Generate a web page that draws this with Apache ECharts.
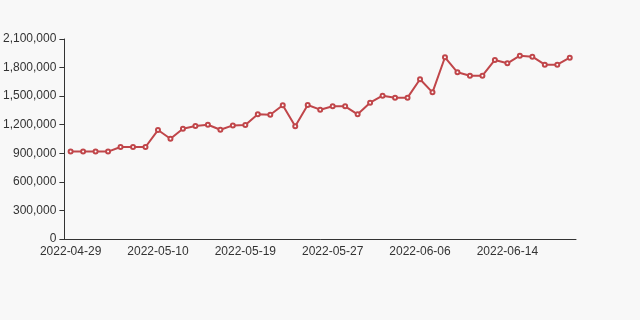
<!DOCTYPE html>
<html>
<head>
<meta charset="utf-8">
<script src="https://cdn.jsdelivr.net/npm/echarts@6/dist/echarts.min.js"></script>
<style>
html,body{margin:0;padding:0;background:#f8f8f8;}
#c{width:640px;height:320px;}
</style>
</head>
<body>
<div id="c"></div>
<script>
const dates = [
  "2022-04-29","2022-05-02","2022-05-03","2022-05-04","2022-05-05","2022-05-06","2022-05-09","2022-05-10",
  "2022-05-11","2022-05-12","2022-05-13","2022-05-16","2022-05-17","2022-05-18","2022-05-19",
  "2022-05-20","2022-05-21","2022-05-23","2022-05-24","2022-05-25","2022-05-26","2022-05-27",
  "2022-05-30","2022-05-31","2022-06-01","2022-06-02","2022-06-03","2022-06-05","2022-06-06",
  "2022-06-07","2022-06-08","2022-06-09","2022-06-10","2022-06-11","2022-06-13","2022-06-14",
  "2022-06-15","2022-06-16","2022-06-17","2022-06-20","2022-06-21"
];
const values = [
  918000, 918000, 918000, 918000, 966000, 966000, 966000, 1144000,
  1053000, 1158000, 1186000, 1200000, 1147000, 1193000, 1197000,
  1309000, 1305000, 1404000, 1183000, 1407000, 1358000, 1393000,
  1393000, 1309000, 1431000, 1505000, 1484000, 1484000, 1677000,
  1540000, 1908000, 1750000, 1715000, 1715000, 1880000, 1845000,
  1925000, 1914000, 1830000, 1830000, 1904000
];
const yTicks = { min: 0, max: 2100000, interval: 300000 };

const chart = echarts.init(document.getElementById('c'), null, {renderer: 'canvas'});
chart.setOption({
  backgroundColor: '#f8f8f8',
  animation: false,
  grid: { left: 62, right: 64, top: 39, bottom: 81 },
  xAxis: {
    type: 'category',
    data: dates,
    boundaryGap: true,
    axisLine: { lineStyle: { color: '#333' } },
    axisTick: { interval: 6, lineStyle: { color: '#333' } },
    axisLabel: { interval: 6, color: '#333', fontSize: 12, fontFamily: 'Arial, "Liberation Sans", sans-serif', margin: 7 },
    splitLine: { show: false }
  },
  yAxis: {
    type: 'value',
    min: yTicks.min, max: yTicks.max, interval: yTicks.interval,
    axisLine: { show: true, lineStyle: { color: '#333' } },
    axisTick: { show: true, lineStyle: { color: '#333' } },
    axisLabel: {
      color: '#333', fontSize: 12, fontFamily: 'Arial, "Liberation Sans", sans-serif',
      formatter: v => v.toLocaleString('en-US')
    },
    splitLine: { show: false }
  },
  series: [{
    type: 'line',
    data: values,
    symbol: 'emptyCircle',
    symbolSize: 4,
    itemStyle: { color: '#c0464a', borderWidth: 1 },
    lineStyle: { color: '#c0464a', width: 2 }
  }]
});
</script>
</body>
</html>
